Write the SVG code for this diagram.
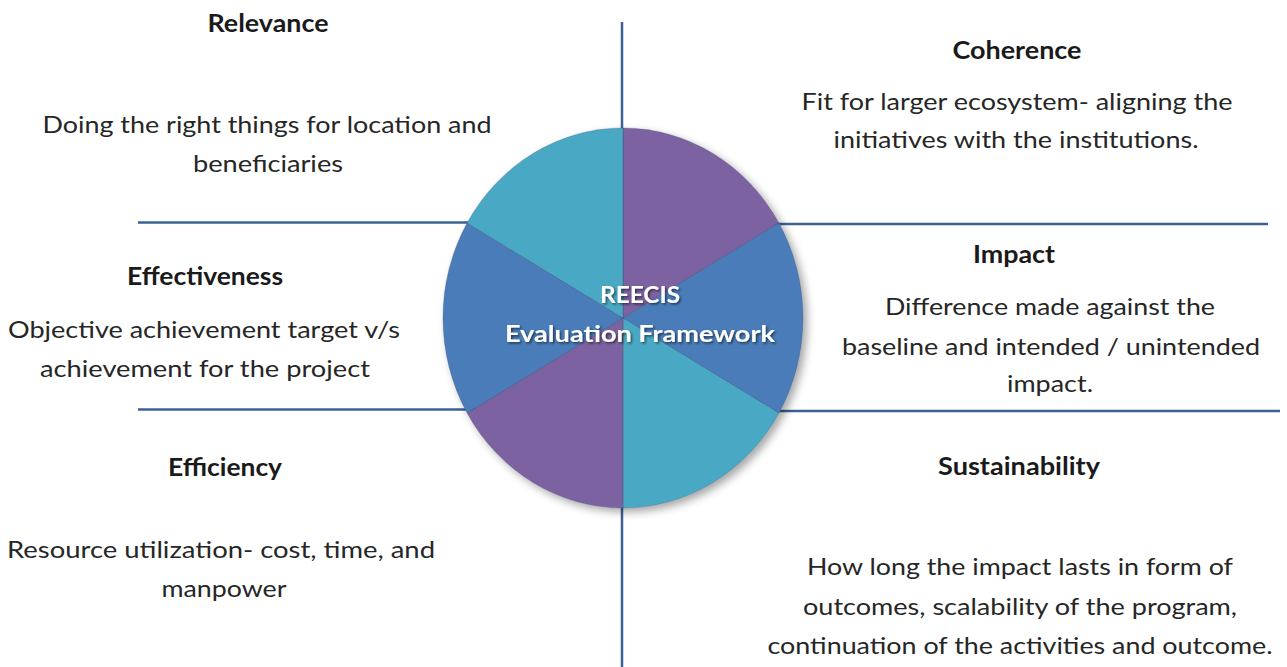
<svg xmlns="http://www.w3.org/2000/svg" width="1287" height="667" viewBox="0 0 1287 667">
  <defs>
    <filter id="shadow" x="-20%" y="-20%" width="140%" height="140%">
      <feDropShadow dx="4" dy="4" stdDeviation="4" flood-color="#000" flood-opacity="0.35"/>
    </filter>
    <filter id="tshadow" x="-10%" y="-30%" width="120%" height="160%">
      <feDropShadow dx="1.5" dy="1.5" stdDeviation="1.2" flood-color="#000" flood-opacity="0.55"/>
    </filter>
  </defs>
  <style>
    .ln { stroke: #3d6098; stroke-width: 2.5; fill: none; stroke-linecap: butt; }
    .h { font-family: Lato, "Open Sans", "Liberation Sans", sans-serif; font-weight: bold; font-size: 24px; fill: #1a1a1a; text-anchor: middle; }
    .b { font-family: Lato, "Open Sans", "Liberation Sans", sans-serif; font-size: 23px; fill: #262626; text-anchor: middle; }
    .c { font-family: Lato, "Open Sans", "Liberation Sans", sans-serif; font-weight: bold; font-size: 23px; fill: #ffffff; text-anchor: middle; }
    .purple { fill: #7b62a0; }
    .blue { fill: #4a7cb8; }
    .teal { fill: #48a9c4; }
    .sep { stroke: #2f3f66; stroke-opacity: 0.25; stroke-width: 1; }
  </style>
  <rect width="1287" height="667" fill="#ffffff"/>

  <g id="connectors">
    <line class="ln" x1="622" y1="22" x2="622" y2="667"/>
    <line class="ln" x1="138" y1="222.5" x2="500" y2="222.5"/>
    <line class="ln" x1="750" y1="224" x2="1268" y2="224"/>
    <line class="ln" x1="138" y1="409.5" x2="500" y2="409.5"/>
    <line class="ln" x1="750" y1="411" x2="1280" y2="411"/>
  </g>

  <g id="pie" filter="url(#shadow)">
    <path class="purple sep" d="M623,318 L623,128 A180,190 0 0,1 778.9,223 Z"/>
    <path class="blue sep" d="M623,318 L778.9,223 A180,190 0 0,1 778.9,413 Z"/>
    <path class="teal sep" d="M623,318 L778.9,413 A180,190 0 0,1 623,508 Z"/>
    <path class="purple sep" d="M623,318 L623,508 A180,190 0 0,1 467.1,413 Z"/>
    <path class="blue sep" d="M623,318 L467.1,413 A180,190 0 0,1 467.1,223 Z"/>
    <path class="teal sep" d="M623,318 L467.1,223 A180,190 0 0,1 623,128 Z"/>
  </g>
  <g id="center-label" filter="url(#tshadow)">
    <text class="c" x="640" y="303" textLength="80" lengthAdjust="spacingAndGlyphs">REECIS</text>
    <text class="c" x="640" y="342" textLength="270" lengthAdjust="spacingAndGlyphs">Evaluation Framework</text>
  </g>

  <g id="relevance">
    <text class="h" x="268" y="32" textLength="121" lengthAdjust="spacingAndGlyphs">Relevance</text>
    <text class="b" x="267" y="133" textLength="449" lengthAdjust="spacingAndGlyphs">Doing the right things for location and</text>
    <text class="b" x="268" y="172" textLength="150" lengthAdjust="spacingAndGlyphs">beneficiaries</text>
  </g>

  <g id="coherence">
    <text class="h" x="1017" y="59" textLength="129" lengthAdjust="spacingAndGlyphs">Coherence</text>
    <text class="b" x="1017" y="110" textLength="431" lengthAdjust="spacingAndGlyphs">Fit for larger ecosystem- aligning the</text>
    <text class="b" x="1016" y="148" textLength="365" lengthAdjust="spacingAndGlyphs">initiatives with the institutions.</text>
  </g>

  <g id="effectiveness">
    <text class="h" x="205" y="285" textLength="156" lengthAdjust="spacingAndGlyphs">Effectiveness</text>
    <text class="b" x="204" y="338" textLength="392" lengthAdjust="spacingAndGlyphs">Objective achievement target v/s</text>
    <text class="b" x="205" y="377" textLength="330" lengthAdjust="spacingAndGlyphs">achievement for the project</text>
  </g>

  <g id="impact">
    <text class="h" x="1014" y="263" textLength="82" lengthAdjust="spacingAndGlyphs">Impact</text>
    <text class="b" x="1050" y="315" textLength="330" lengthAdjust="spacingAndGlyphs">Difference made against the</text>
    <text class="b" x="1051" y="355" textLength="418" lengthAdjust="spacingAndGlyphs">baseline and intended / unintended</text>
    <text class="b" x="1050" y="392" textLength="86" lengthAdjust="spacingAndGlyphs">impact.</text>
  </g>

  <g id="efficiency">
    <text class="h" x="225" y="476" textLength="114" lengthAdjust="spacingAndGlyphs">Efficiency</text>
    <text class="b" x="221" y="558" textLength="428" lengthAdjust="spacingAndGlyphs">Resource utilization- cost, time, and</text>
    <text class="b" x="224" y="597" textLength="125" lengthAdjust="spacingAndGlyphs">manpower</text>
  </g>

  <g id="sustainability">
    <text class="h" x="1019" y="475" textLength="162" lengthAdjust="spacingAndGlyphs">Sustainability</text>
    <text class="b" x="1020" y="575" textLength="426" lengthAdjust="spacingAndGlyphs">How long the impact lasts in form of</text>
    <text class="b" x="1020" y="615" textLength="434" lengthAdjust="spacingAndGlyphs">outcomes, scalability of the program,</text>
    <text class="b" x="1020" y="654" textLength="505" lengthAdjust="spacingAndGlyphs">continuation of the activities and outcome.</text>
  </g>
</svg>
